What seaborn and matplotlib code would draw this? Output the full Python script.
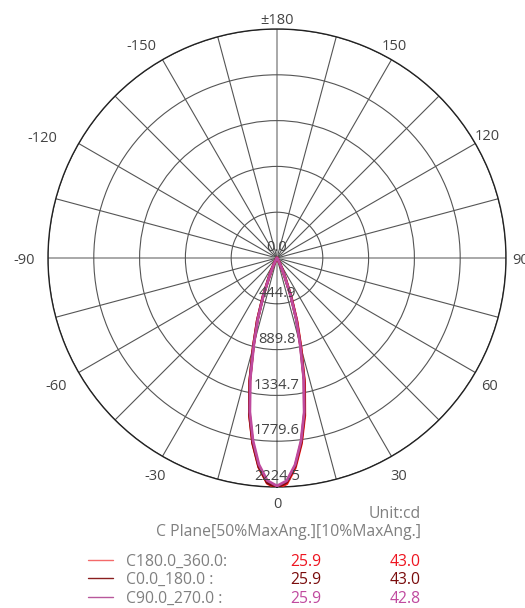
import numpy as np
import pandas as pd
import matplotlib
matplotlib.use('Agg')
import matplotlib.pyplot as plt
from matplotlib.lines import Line2D
import seaborn as sns

sns.set_style('white')
plt.rcParams['font.family'] = ['Open Sans', 'DejaVu Sans']

# gamma angle (deg) and luminous intensity (cd)
gamma = [-90, -60, -45, -40, -35, -30, -27.5, -25, -22.5, -20, -17.5, -15, -12.5, -10, -7.5, -5, -2.5,
         0, 2.5, 5, 7.5, 10, 12.5, 15, 17.5, 20, 22.5, 25, 27.5, 30, 35, 40, 45, 60, 90]
cd_c180_360 = [0, 0, 1, 3, 9, 27, 58, 115, 205, 400, 640, 890, 1225, 1545, 1815, 2040, 2190,
               2240, 2195, 2045, 1820, 1555, 1240, 905, 650, 410, 212, 118, 60, 28, 9, 3, 1, 0, 0]
cd_c0_180 = [0, 0, 1, 3, 8, 25, 55, 112, 203, 398, 636, 888, 1222, 1540, 1810, 2034, 2184,
             2232, 2180, 2030, 1805, 1535, 1215, 882, 630, 395, 202, 112, 56, 26, 8, 3, 1, 0, 0]
cd_c90_270 = [0, 0, 1, 3, 8, 24, 52, 105, 192, 382, 615, 866, 1198, 1518, 1788, 2014, 2164,
              2214, 2166, 2016, 1790, 1520, 1200, 868, 617, 385, 194, 106, 53, 24, 8, 3, 1, 0, 0]

planes = ['C180.0_360.0:', 'C0.0_180.0 :', 'C90.0_270.0 :']
half_max_ang = ['25.9', '25.9', '25.9']
tenth_max_ang = ['43.0', '43.0', '42.8']
ring_values = [0.0, 444.9, 889.8, 1334.7, 1779.6, 2224.5]
angle_labels = ['0', '30', '60', '90', '120', '150', '±180', '-150', '-120', '-90', '-60', '-30']
# where each angle label sits in the picture (pixels from top-left)
angle_label_px = [(277, 502), (399, 475), (489, 384), (520, 259), (487, 135), (394, 44),
                  (277, 18), (141, 44), (42, 136), (24, 259), (56, 384), (155, 475)]

line_colors = ['#ff1a1a', '#7a0c0c', '#bf4a9e']
value_colors = ['#ee1520', '#7a0c0c', '#c04a9f']
legend_line_colors = ['#f46a6a', '#8a1f1f', '#b8589c']

W, H = 525, 608

rows = []
for name, vals in zip(planes, [cd_c180_360, cd_c0_180, cd_c90_270]):
    for g, v in zip(gamma, vals):
        rows.append({'theta': np.deg2rad(g), 'cd': v, 'plane': name})
df = pd.DataFrame(rows)

fig = plt.figure(figsize=(W / 100, H / 100), dpi=100)
ax = fig.add_axes([0.0914, 0.1990, 0.8724, 0.7533], projection='polar')
ax.set_theta_zero_location('S')
ax.set_theta_direction(1)

sns.lineplot(data=df, x='theta', y='cd', hue='plane', hue_order=planes,
             palette=line_colors, sort=False, estimator=None, legend=False,
             linewidth=2.0, ax=ax)
ax.set_xlabel('')
ax.set_ylabel('')

ax.set_ylim(0, ring_values[-1])
ax.set_yticks(ring_values[1:])
ax.set_yticklabels([])
ax.yaxis.grid(True, color='#555555', linewidth=0.8)

spokes = np.arange(0, 360, 15)
ax.set_xticks(np.deg2rad(spokes))
ax.set_xticklabels([])
ax.tick_params(axis='x', length=0)
ax.xaxis.grid(True)
for s, gl in zip(spokes, ax.xaxis.get_gridlines()):
    if s % 90 == 0:
        gl.set_color('#9a9a9a')
        gl.set_linewidth(1.2)
    else:
        gl.set_color('#555555')
        gl.set_linewidth(0.8)
ax.spines['polar'].set_color('#222222')
ax.spines['polar'].set_linewidth(1.0)
for ln in ax.lines:
    ln.set_zorder(3)

for rv in ring_values:
    ax.annotate(f'{rv:.1f}', xy=(0, rv), xytext=(0, 2), textcoords='offset points',
                ha='center', va='bottom', fontsize=10.5, color='#444444', zorder=4)

for lab, (px, py) in zip(angle_labels, angle_label_px):
    if lab == '90':
        fig.text(512 / W, 1 - (py + 2) / H, lab, ha='left', va='center', fontsize=10.5, color='#444444')
    else:
        fig.text(px / W, 1 - (py + 2) / H, lab, ha='center', va='center', fontsize=10.5, color='#444444')

# legend block under the chart
fig.text(421 / W, 1 - 514 / H, 'Unit:cd', ha='right', va='center', fontsize=11.3, color='#808080')
fig.text(421 / W, 1 - 532 / H, 'C Plane[50%MaxAng.][10%MaxAng.]', ha='right', va='center',
         fontsize=11.3, color='#808080')
row_y = [560, 578, 597]
for i, name in enumerate(planes):
    y = 1 - row_y[i] / H
    yt = 1 - (row_y[i] + 2) / H
    fig.add_artist(Line2D([88 / W, 113 / W], [y, y], color=legend_line_colors[i], linewidth=1.0))
    fig.text(126 / W, yt, name, ha='left', va='center', fontsize=11.3, color='#808080')
    fig.text(321 / W, yt, half_max_ang[i], ha='right', va='center', fontsize=11.3, color=value_colors[i])
    fig.text(421 / W, yt, tenth_max_ang[i], ha='right', va='center', fontsize=11.3, color=value_colors[i])

fig.savefig('out.png', dpi=100)
